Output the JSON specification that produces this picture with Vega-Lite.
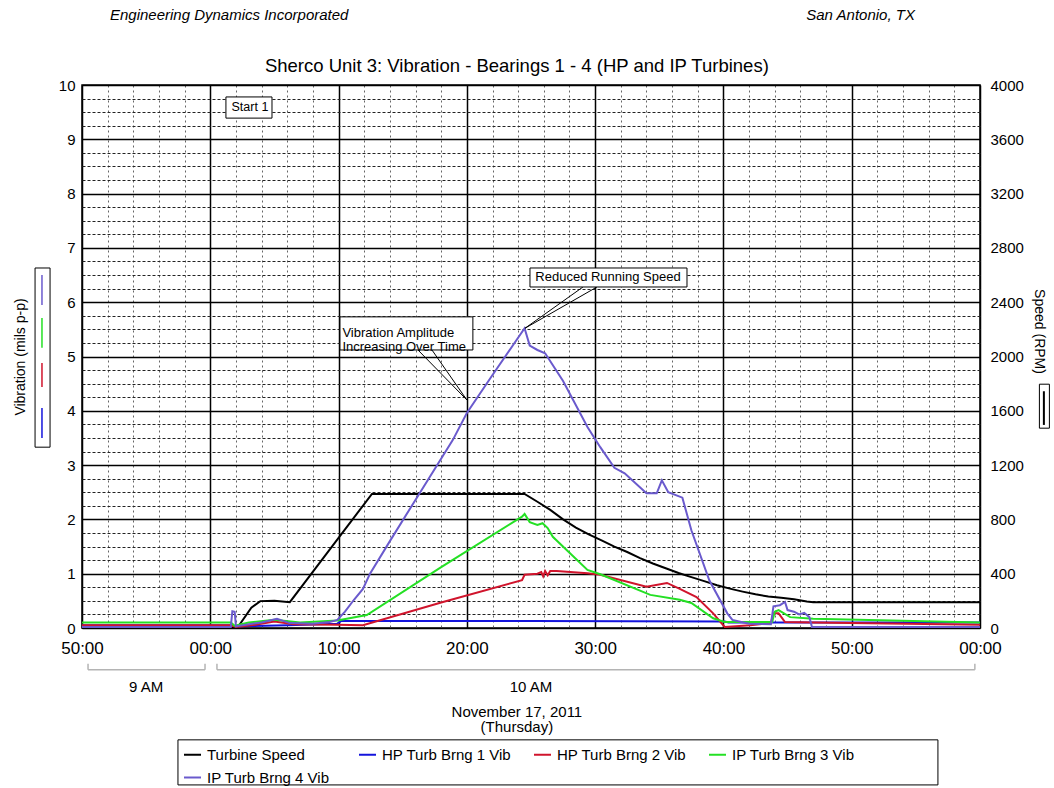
{
  "$schema": "https://vega.github.io/schema/vega-lite/v6.json",
  "width": 898,
  "height": 543,
  "autosize": "none",
  "padding": {"left": 82, "top": 85, "right": 74, "bottom": 160},
  "background": "white",
  "config": {
    "font": "Liberation Sans",
    "view": {"stroke": "black", "strokeWidth": 1.5},
    "axis": {
      "labelFont": "Liberation Sans",
      "labelColor": "black",
      "titleFont": "Liberation Sans",
      "titleColor": "black",
      "titleFontWeight": "normal",
      "ticks": false,
      "domain": false,
      "labelFontSize": 15,
      "titleFontSize": 14
    },
    "text": {"font": "Liberation Sans", "fontSize": 13, "color": "black"}
  },
  "datasets": {
    "speed": [
      {"minute": -10, "series": "Turbine Speed", "rpm": 0},
      {"minute": 2.1, "series": "Turbine Speed", "rpm": 0},
      {"minute": 3.2, "series": "Turbine Speed", "rpm": 150},
      {"minute": 3.9, "series": "Turbine Speed", "rpm": 198},
      {"minute": 5.0, "series": "Turbine Speed", "rpm": 200},
      {"minute": 6.2, "series": "Turbine Speed", "rpm": 190},
      {"minute": 12.6, "series": "Turbine Speed", "rpm": 988},
      {"minute": 24.5, "series": "Turbine Speed", "rpm": 988},
      {"minute": 25.5, "series": "Turbine Speed", "rpm": 930},
      {"minute": 26.5, "series": "Turbine Speed", "rpm": 870},
      {"minute": 27.5, "series": "Turbine Speed", "rpm": 800},
      {"minute": 28.5, "series": "Turbine Speed", "rpm": 740},
      {"minute": 29.5, "series": "Turbine Speed", "rpm": 690},
      {"minute": 30.5, "series": "Turbine Speed", "rpm": 645},
      {"minute": 31.5, "series": "Turbine Speed", "rpm": 600},
      {"minute": 32.5, "series": "Turbine Speed", "rpm": 560},
      {"minute": 33.5, "series": "Turbine Speed", "rpm": 515},
      {"minute": 34.5, "series": "Turbine Speed", "rpm": 475},
      {"minute": 35.5, "series": "Turbine Speed", "rpm": 440},
      {"minute": 36.5, "series": "Turbine Speed", "rpm": 405},
      {"minute": 37.5, "series": "Turbine Speed", "rpm": 375},
      {"minute": 38.5, "series": "Turbine Speed", "rpm": 345},
      {"minute": 39.5, "series": "Turbine Speed", "rpm": 315},
      {"minute": 40.5, "series": "Turbine Speed", "rpm": 290},
      {"minute": 41.5, "series": "Turbine Speed", "rpm": 268},
      {"minute": 42.5, "series": "Turbine Speed", "rpm": 248},
      {"minute": 43.5, "series": "Turbine Speed", "rpm": 232},
      {"minute": 44.5, "series": "Turbine Speed", "rpm": 222},
      {"minute": 45.5, "series": "Turbine Speed", "rpm": 212},
      {"minute": 46.5, "series": "Turbine Speed", "rpm": 195},
      {"minute": 47, "series": "Turbine Speed", "rpm": 190},
      {"minute": 60, "series": "Turbine Speed", "rpm": 190}
    ],
    "vibration": [
      {"minute": -10, "series": "HP Turb Brng 1 Vib", "mils": 0.05},
      {"minute": 1.6, "series": "HP Turb Brng 1 Vib", "mils": 0.05},
      {"minute": 2.0, "series": "HP Turb Brng 1 Vib", "mils": 0.03},
      {"minute": 6, "series": "HP Turb Brng 1 Vib", "mils": 0.05},
      {"minute": 9.9, "series": "HP Turb Brng 1 Vib", "mils": 0.08},
      {"minute": 10.2, "series": "HP Turb Brng 1 Vib", "mils": 0.13},
      {"minute": 25, "series": "HP Turb Brng 1 Vib", "mils": 0.13},
      {"minute": 40.1, "series": "HP Turb Brng 1 Vib", "mils": 0.12},
      {"minute": 40.4, "series": "HP Turb Brng 1 Vib", "mils": 0.1},
      {"minute": 60, "series": "HP Turb Brng 1 Vib", "mils": 0.1},

      {"minute": -10, "series": "HP Turb Brng 2 Vib", "mils": 0.05},
      {"minute": 1.6, "series": "HP Turb Brng 2 Vib", "mils": 0.05},
      {"minute": 2.0, "series": "HP Turb Brng 2 Vib", "mils": 0.02},
      {"minute": 3.5, "series": "HP Turb Brng 2 Vib", "mils": 0.06},
      {"minute": 5.0, "series": "HP Turb Brng 2 Vib", "mils": 0.12},
      {"minute": 6.5, "series": "HP Turb Brng 2 Vib", "mils": 0.07},
      {"minute": 9.9, "series": "HP Turb Brng 2 Vib", "mils": 0.06},
      {"minute": 11.9, "series": "HP Turb Brng 2 Vib", "mils": 0.05},
      {"minute": 18, "series": "HP Turb Brng 2 Vib", "mils": 0.47},
      {"minute": 24.3, "series": "HP Turb Brng 2 Vib", "mils": 0.88},
      {"minute": 24.5, "series": "HP Turb Brng 2 Vib", "mils": 0.98},
      {"minute": 25.5, "series": "HP Turb Brng 2 Vib", "mils": 1.0},
      {"minute": 25.8, "series": "HP Turb Brng 2 Vib", "mils": 1.03},
      {"minute": 25.95, "series": "HP Turb Brng 2 Vib", "mils": 0.95},
      {"minute": 26.1, "series": "HP Turb Brng 2 Vib", "mils": 1.05},
      {"minute": 26.3, "series": "HP Turb Brng 2 Vib", "mils": 0.97},
      {"minute": 26.5, "series": "HP Turb Brng 2 Vib", "mils": 1.05},
      {"minute": 27.0, "series": "HP Turb Brng 2 Vib", "mils": 1.05},
      {"minute": 29.4, "series": "HP Turb Brng 2 Vib", "mils": 1.01},
      {"minute": 30.4, "series": "HP Turb Brng 2 Vib", "mils": 0.98},
      {"minute": 34.0, "series": "HP Turb Brng 2 Vib", "mils": 0.76},
      {"minute": 35.6, "series": "HP Turb Brng 2 Vib", "mils": 0.83},
      {"minute": 36.6, "series": "HP Turb Brng 2 Vib", "mils": 0.72},
      {"minute": 37.9, "series": "HP Turb Brng 2 Vib", "mils": 0.57},
      {"minute": 39.2, "series": "HP Turb Brng 2 Vib", "mils": 0.27},
      {"minute": 40.1, "series": "HP Turb Brng 2 Vib", "mils": 0.02},
      {"minute": 42.1, "series": "HP Turb Brng 2 Vib", "mils": 0.05},
      {"minute": 43.7, "series": "HP Turb Brng 2 Vib", "mils": 0.09},
      {"minute": 43.9, "series": "HP Turb Brng 2 Vib", "mils": 0.27},
      {"minute": 44.3, "series": "HP Turb Brng 2 Vib", "mils": 0.27},
      {"minute": 44.8, "series": "HP Turb Brng 2 Vib", "mils": 0.11},
      {"minute": 47, "series": "HP Turb Brng 2 Vib", "mils": 0.1},
      {"minute": 60, "series": "HP Turb Brng 2 Vib", "mils": 0.06},

      {"minute": -10, "series": "IP Turb Brng 3 Vib", "mils": 0.1},
      {"minute": 1.6, "series": "IP Turb Brng 3 Vib", "mils": 0.1},
      {"minute": 1.9, "series": "IP Turb Brng 3 Vib", "mils": 0.04},
      {"minute": 3.0, "series": "IP Turb Brng 3 Vib", "mils": 0.1},
      {"minute": 5.0, "series": "IP Turb Brng 3 Vib", "mils": 0.15},
      {"minute": 7.0, "series": "IP Turb Brng 3 Vib", "mils": 0.1},
      {"minute": 9.9, "series": "IP Turb Brng 3 Vib", "mils": 0.14},
      {"minute": 12.2, "series": "IP Turb Brng 3 Vib", "mils": 0.24},
      {"minute": 18, "series": "IP Turb Brng 3 Vib", "mils": 1.12},
      {"minute": 24.3, "series": "IP Turb Brng 3 Vib", "mils": 2.05},
      {"minute": 24.5, "series": "IP Turb Brng 3 Vib", "mils": 2.1},
      {"minute": 24.9, "series": "IP Turb Brng 3 Vib", "mils": 1.95},
      {"minute": 25.5, "series": "IP Turb Brng 3 Vib", "mils": 1.9},
      {"minute": 25.9, "series": "IP Turb Brng 3 Vib", "mils": 1.93},
      {"minute": 26.3, "series": "IP Turb Brng 3 Vib", "mils": 1.84},
      {"minute": 26.7, "series": "IP Turb Brng 3 Vib", "mils": 1.68},
      {"minute": 29.4, "series": "IP Turb Brng 3 Vib", "mils": 1.07},
      {"minute": 30.4, "series": "IP Turb Brng 3 Vib", "mils": 0.99},
      {"minute": 34.3, "series": "IP Turb Brng 3 Vib", "mils": 0.61},
      {"minute": 36.6, "series": "IP Turb Brng 3 Vib", "mils": 0.52},
      {"minute": 37.5, "series": "IP Turb Brng 3 Vib", "mils": 0.46},
      {"minute": 39.2, "series": "IP Turb Brng 3 Vib", "mils": 0.18},
      {"minute": 40.1, "series": "IP Turb Brng 3 Vib", "mils": 0.11},
      {"minute": 43.8, "series": "IP Turb Brng 3 Vib", "mils": 0.11},
      {"minute": 44.0, "series": "IP Turb Brng 3 Vib", "mils": 0.3},
      {"minute": 44.3, "series": "IP Turb Brng 3 Vib", "mils": 0.33},
      {"minute": 45.2, "series": "IP Turb Brng 3 Vib", "mils": 0.2},
      {"minute": 47, "series": "IP Turb Brng 3 Vib", "mils": 0.17},
      {"minute": 60, "series": "IP Turb Brng 3 Vib", "mils": 0.1},

      {"minute": -10, "series": "IP Turb Brng 4 Vib", "mils": 0.02},
      {"minute": 1.6, "series": "IP Turb Brng 4 Vib", "mils": 0.02},
      {"minute": 1.72, "series": "IP Turb Brng 4 Vib", "mils": 0.31},
      {"minute": 1.9, "series": "IP Turb Brng 4 Vib", "mils": 0.3},
      {"minute": 2.0, "series": "IP Turb Brng 4 Vib", "mils": 0.03},
      {"minute": 3.0, "series": "IP Turb Brng 4 Vib", "mils": 0.07},
      {"minute": 4.0, "series": "IP Turb Brng 4 Vib", "mils": 0.1},
      {"minute": 5.2, "series": "IP Turb Brng 4 Vib", "mils": 0.17},
      {"minute": 6.2, "series": "IP Turb Brng 4 Vib", "mils": 0.09},
      {"minute": 8, "series": "IP Turb Brng 4 Vib", "mils": 0.08},
      {"minute": 9.3, "series": "IP Turb Brng 4 Vib", "mils": 0.11},
      {"minute": 9.9, "series": "IP Turb Brng 4 Vib", "mils": 0.15},
      {"minute": 10.5, "series": "IP Turb Brng 4 Vib", "mils": 0.3},
      {"minute": 11.2, "series": "IP Turb Brng 4 Vib", "mils": 0.52},
      {"minute": 11.9, "series": "IP Turb Brng 4 Vib", "mils": 0.72},
      {"minute": 12.45, "series": "IP Turb Brng 4 Vib", "mils": 1.0},
      {"minute": 14, "series": "IP Turb Brng 4 Vib", "mils": 1.6},
      {"minute": 16.1, "series": "IP Turb Brng 4 Vib", "mils": 2.4},
      {"minute": 18.9, "series": "IP Turb Brng 4 Vib", "mils": 3.46},
      {"minute": 20, "series": "IP Turb Brng 4 Vib", "mils": 3.96},
      {"minute": 22, "series": "IP Turb Brng 4 Vib", "mils": 4.66},
      {"minute": 24.5, "series": "IP Turb Brng 4 Vib", "mils": 5.52},
      {"minute": 24.9, "series": "IP Turb Brng 4 Vib", "mils": 5.2},
      {"minute": 25.5, "series": "IP Turb Brng 4 Vib", "mils": 5.12},
      {"minute": 26.1, "series": "IP Turb Brng 4 Vib", "mils": 5.06},
      {"minute": 27.5, "series": "IP Turb Brng 4 Vib", "mils": 4.55},
      {"minute": 29.4, "series": "IP Turb Brng 4 Vib", "mils": 3.7},
      {"minute": 30.4, "series": "IP Turb Brng 4 Vib", "mils": 3.33},
      {"minute": 31.5, "series": "IP Turb Brng 4 Vib", "mils": 2.95},
      {"minute": 32.3, "series": "IP Turb Brng 4 Vib", "mils": 2.85},
      {"minute": 34.0, "series": "IP Turb Brng 4 Vib", "mils": 2.48},
      {"minute": 34.8, "series": "IP Turb Brng 4 Vib", "mils": 2.48},
      {"minute": 35.2, "series": "IP Turb Brng 4 Vib", "mils": 2.72},
      {"minute": 35.7, "series": "IP Turb Brng 4 Vib", "mils": 2.5},
      {"minute": 36.8, "series": "IP Turb Brng 4 Vib", "mils": 2.4},
      {"minute": 37.5, "series": "IP Turb Brng 4 Vib", "mils": 1.8},
      {"minute": 38.9, "series": "IP Turb Brng 4 Vib", "mils": 0.88},
      {"minute": 40.3, "series": "IP Turb Brng 4 Vib", "mils": 0.27},
      {"minute": 40.7, "series": "IP Turb Brng 4 Vib", "mils": 0.15},
      {"minute": 42, "series": "IP Turb Brng 4 Vib", "mils": 0.08},
      {"minute": 43.7, "series": "IP Turb Brng 4 Vib", "mils": 0.07},
      {"minute": 43.9, "series": "IP Turb Brng 4 Vib", "mils": 0.4},
      {"minute": 44.4, "series": "IP Turb Brng 4 Vib", "mils": 0.42},
      {"minute": 44.8, "series": "IP Turb Brng 4 Vib", "mils": 0.48},
      {"minute": 45.0, "series": "IP Turb Brng 4 Vib", "mils": 0.33},
      {"minute": 45.5, "series": "IP Turb Brng 4 Vib", "mils": 0.3},
      {"minute": 45.9, "series": "IP Turb Brng 4 Vib", "mils": 0.25},
      {"minute": 46.3, "series": "IP Turb Brng 4 Vib", "mils": 0.28},
      {"minute": 46.7, "series": "IP Turb Brng 4 Vib", "mils": 0.2},
      {"minute": 46.9, "series": "IP Turb Brng 4 Vib", "mils": 0.02},
      {"minute": 60, "series": "IP Turb Brng 4 Vib", "mils": 0.02}
    ]
  },
  "layer": [
    {
      "data": {"name": "speed"},
      "mark": {"type": "line", "strokeWidth": 2},
      "encoding": {
        "x": {"field": "minute", "type": "quantitative", "scale": {"domain": [-10, 60]}, "axis": null},
        "y": {
          "field": "rpm", "type": "quantitative", "scale": {"domain": [0, 4000]},
          "axis": {
            "orient": "right",
            "values": [0, 400, 800, 1200, 1600, 2000, 2400, 2800, 3200, 3600, 4000],
            "format": "d",
            "labelPadding": 10,
            "grid": false,
            "title": "Speed (RPM)",
            "titleAngle": 90,
            "titleY": 246,
            "titlePadding": 8
          }
        },
        "color": {
          "field": "series", "type": "nominal",
          "scale": {
            "domain": ["Turbine Speed", "HP Turb Brng 1 Vib", "HP Turb Brng 2 Vib", "IP Turb Brng 3 Vib", "IP Turb Brng 4 Vib"],
            "range": ["#000000", "#1414dc", "#d0142c", "#24e024", "#6a5acd"]
          }
        }
      }
    },
    {
      "layer": [
        {
          "data": {"name": "vibration"},
          "mark": {"type": "line", "opacity": 0},
          "encoding": {
            "x": {
              "field": "minute", "type": "quantitative", "scale": {"domain": [-10, 60]},
              "axis": {
                "orient": "bottom",
                "values": [-8, -6, -4, -2, 2, 4, 6, 8, 12, 14, 16, 18, 22, 24, 26, 28, 32, 34, 36, 38, 42, 44, 46, 48, 52, 54, 56, 58],
                "labels": false, "grid": true, "gridColor": "#666666", "gridDash": [2, 3], "gridWidth": 1, "title": null
              }
            },
            "y": {
              "field": "mils", "type": "quantitative", "scale": {"domain": [0, 10]},
              "axis": {
                "orient": "left",
                "values": [0.25, 0.5, 0.75, 1.25, 1.5, 1.75, 2.25, 2.5, 2.75, 3.25, 3.5, 3.75, 4.25, 4.5, 4.75, 5.25, 5.5, 5.75, 6.25, 6.5, 6.75, 7.25, 7.5, 7.75, 8.25, 8.5, 8.75, 9.25, 9.5, 9.75],
                "labels": false, "grid": true, "gridColor": "#222222", "gridDash": [3, 2], "gridWidth": 1, "title": null
              }
            },
            "detail": {"field": "series"}
          }
        },
        {
          "data": {"name": "vibration"},
          "mark": {"type": "line", "strokeWidth": 2},
          "encoding": {
            "x": {
              "field": "minute", "type": "quantitative", "scale": {"domain": [-10, 60]},
              "axis": {
                "orient": "bottom",
                "values": [-10, 0, 10, 20, 30, 40, 50, 60],
                "labelExpr": "((((datum.value % 60) + 60) % 60) < 10 ? '0' : '') + (((datum.value % 60) + 60) % 60) + ':00'",
                "labelFontSize": 17,
                "labelPadding": 12,
                "labelFlush": false,
                "labelOverlap": false,
                "grid": true, "gridColor": "black", "gridWidth": 1.5,
                "title": null
              }
            },
            "y": {
              "field": "mils", "type": "quantitative", "scale": {"domain": [0, 10]},
              "axis": {
                "orient": "left",
                "values": [0, 1, 2, 3, 4, 5, 6, 7, 8, 9, 10],
                "labelPadding": 7,
                "grid": true, "gridColor": "black", "gridWidth": 1.5,
                "title": "Vibration (mils p-p)",
                "titlePadding": 31
              }
            },
            "color": {
              "field": "series", "type": "nominal",
              "scale": {
                "domain": ["Turbine Speed", "HP Turb Brng 1 Vib", "HP Turb Brng 2 Vib", "IP Turb Brng 3 Vib", "IP Turb Brng 4 Vib"],
                "range": ["#000000", "#1414dc", "#d0142c", "#24e024", "#6a5acd"]
              },
              "legend": {
                "orient": "none",
                "legendX": 101,
                "legendY": 660,
                "direction": "horizontal",
                "columns": 4,
                "gridAlign": "all",
                "title": null,
                "symbolType": "stroke",
                "symbolStrokeWidth": 2,
                "symbolSize": 289,
                "labelFont": "Liberation Sans",
                "labelFontSize": 15,
                "labelColor": "black",
                "labelOffset": 5,
                "labelLimit": 300,
                "columnPadding": 18,
                "rowPadding": 5,
                "padding": 0
              }
            }
          }
        },
        {
          "data": {"values": [{}]},
          "layer": [
            {
              "mark": {"type": "text", "align": "left", "fontStyle": "italic", "fontSize": 15},
              "encoding": {
                "x": {"datum": -7.82, "type": "quantitative", "axis": null},
                "y": {"datum": 11.29, "type": "quantitative", "axis": null},
                "text": {"value": "Engineering Dynamics Incorporated"}
              }
            },
            {
              "mark": {"type": "text", "align": "right", "fontStyle": "italic", "fontSize": 15},
              "encoding": {
                "x": {"datum": 54.93, "type": "quantitative", "axis": null},
                "y": {"datum": 11.29, "type": "quantitative", "axis": null},
                "text": {"value": "San Antonio, TX"}
              }
            },
            {
              "mark": {"type": "text", "fontSize": 18.5},
              "encoding": {
                "x": {"datum": 23.9, "type": "quantitative", "axis": null},
                "y": {"datum": 10.35, "type": "quantitative", "axis": null},
                "text": {"value": "Sherco Unit 3: Vibration - Bearings 1 - 4 (HP and IP Turbines)"}
              }
            },
            {
              "mark": {"type": "rect", "fill": "white", "stroke": "black", "strokeWidth": 1},
              "encoding": {
                "x": {"datum": 1.22, "type": "quantitative", "axis": null},
                "x2": {"datum": 4.81},
                "y": {"datum": 9.78, "type": "quantitative", "axis": null},
                "y2": {"datum": 9.39}
              }
            },
            {
              "mark": {"type": "text", "fontSize": 12.5},
              "encoding": {
                "x": {"datum": 3.09, "type": "quantitative", "axis": null},
                "y": {"datum": 9.59, "type": "quantitative", "axis": null},
                "text": {"value": "Start 1"}
              }
            },
            {
              "mark": {"type": "rule", "color": "black", "strokeWidth": 1},
              "encoding": {
                "x": {"datum": 16.19, "type": "quantitative", "axis": null},
                "x2": {"datum": 20.0},
                "y": {"datum": 5.12, "type": "quantitative", "axis": null},
                "y2": {"datum": 4.2}
              }
            },
            {
              "mark": {"type": "rule", "color": "black", "strokeWidth": 1},
              "encoding": {
                "x": {"datum": 17.28, "type": "quantitative", "axis": null},
                "x2": {"datum": 20.0},
                "y": {"datum": 5.12, "type": "quantitative", "axis": null},
                "y2": {"datum": 4.2}
              }
            },
            {
              "mark": {"type": "rect", "fill": "white", "stroke": "black", "strokeWidth": 1},
              "encoding": {
                "x": {"datum": 10.11, "type": "quantitative", "axis": null},
                "x2": {"datum": 20.47},
                "y": {"datum": 5.73, "type": "quantitative", "axis": null},
                "y2": {"datum": 5.12}
              }
            },
            {
              "mark": {"type": "text", "align": "left", "fontSize": 13, "lineBreak": "\n", "lineHeight": 14},
              "encoding": {
                "x": {"datum": 10.3, "type": "quantitative", "axis": null},
                "y": {"datum": 5.43, "type": "quantitative", "axis": null},
                "text": {"value": "Vibration Amplitude\nIncreasing Over Time"}
              }
            },
            {
              "mark": {"type": "rule", "color": "black", "strokeWidth": 1},
              "encoding": {
                "x": {"datum": 29.05, "type": "quantitative", "axis": null},
                "x2": {"datum": 24.53},
                "y": {"datum": 6.28, "type": "quantitative", "axis": null},
                "y2": {"datum": 5.52}
              }
            },
            {
              "mark": {"type": "rule", "color": "black", "strokeWidth": 1},
              "encoding": {
                "x": {"datum": 30.14, "type": "quantitative", "axis": null},
                "x2": {"datum": 24.53},
                "y": {"datum": 6.28, "type": "quantitative", "axis": null},
                "y2": {"datum": 5.52}
              }
            },
            {
              "mark": {"type": "rect", "fill": "white", "stroke": "black", "strokeWidth": 1},
              "encoding": {
                "x": {"datum": 24.92, "type": "quantitative", "axis": null},
                "x2": {"datum": 37.16},
                "y": {"datum": 6.63, "type": "quantitative", "axis": null},
                "y2": {"datum": 6.28}
              }
            },
            {
              "mark": {"type": "text", "fontSize": 13},
              "encoding": {
                "x": {"datum": 31.0, "type": "quantitative", "axis": null},
                "y": {"datum": 6.455, "type": "quantitative", "axis": null},
                "text": {"value": "Reduced Running Speed"}
              }
            },
            {
              "mark": {"type": "rect", "fill": "white", "stroke": "black", "strokeWidth": 1},
              "encoding": {
                "x": {"datum": -13.66, "type": "quantitative", "axis": null},
                "x2": {"datum": -12.49},
                "y": {"datum": 6.63, "type": "quantitative", "axis": null},
                "y2": {"datum": 3.33}
              }
            },
            {
              "mark": {"type": "rule", "color": "#6a5acd", "strokeWidth": 1.5},
              "encoding": {
                "x": {"datum": -13.12, "type": "quantitative", "axis": null},
                "y": {"datum": 6.5, "type": "quantitative", "axis": null},
                "y2": {"datum": 5.95}
              }
            },
            {
              "mark": {"type": "rule", "color": "#24e024", "strokeWidth": 1.5},
              "encoding": {
                "x": {"datum": -13.12, "type": "quantitative", "axis": null},
                "y": {"datum": 5.71, "type": "quantitative", "axis": null},
                "y2": {"datum": 5.16}
              }
            },
            {
              "mark": {"type": "rule", "color": "#d0142c", "strokeWidth": 1.5},
              "encoding": {
                "x": {"datum": -13.12, "type": "quantitative", "axis": null},
                "y": {"datum": 4.88, "type": "quantitative", "axis": null},
                "y2": {"datum": 4.44}
              }
            },
            {
              "mark": {"type": "rule", "color": "#1414dc", "strokeWidth": 1.5},
              "encoding": {
                "x": {"datum": -13.12, "type": "quantitative", "axis": null},
                "y": {"datum": 4.05, "type": "quantitative", "axis": null},
                "y2": {"datum": 3.5}
              }
            },
            {
              "mark": {"type": "rect", "fill": "white", "stroke": "black", "strokeWidth": 1},
              "encoding": {
                "x": {"datum": 64.63, "type": "quantitative", "axis": null},
                "x2": {"datum": 65.41},
                "y": {"datum": 4.49, "type": "quantitative", "axis": null},
                "y2": {"datum": 3.68}
              }
            },
            {
              "mark": {"type": "rule", "color": "black", "strokeWidth": 2},
              "encoding": {
                "x": {"datum": 64.98, "type": "quantitative", "axis": null},
                "y": {"datum": 4.36, "type": "quantitative", "axis": null},
                "y2": {"datum": 3.74}
              }
            },
            {
              "mark": {"type": "rule", "color": "#b4b4b4", "strokeWidth": 1.5},
              "encoding": {
                "x": {"datum": -9.53, "type": "quantitative", "axis": null},
                "x2": {"datum": -0.41},
                "y": {"datum": -0.77, "type": "quantitative", "axis": null}
              }
            },
            {
              "mark": {"type": "rule", "color": "#b4b4b4", "strokeWidth": 1.5},
              "encoding": {
                "x": {"datum": -9.53, "type": "quantitative", "axis": null},
                "y": {"datum": -0.77, "type": "quantitative", "axis": null},
                "y2": {"datum": -0.66}
              }
            },
            {
              "mark": {"type": "rule", "color": "#b4b4b4", "strokeWidth": 1.5},
              "encoding": {
                "x": {"datum": -0.41, "type": "quantitative", "axis": null},
                "y": {"datum": -0.77, "type": "quantitative", "axis": null},
                "y2": {"datum": -0.66}
              }
            },
            {
              "mark": {"type": "rule", "color": "#b4b4b4", "strokeWidth": 1.5},
              "encoding": {
                "x": {"datum": 0.52, "type": "quantitative", "axis": null},
                "x2": {"datum": 59.6},
                "y": {"datum": -0.77, "type": "quantitative", "axis": null}
              }
            },
            {
              "mark": {"type": "rule", "color": "#b4b4b4", "strokeWidth": 1.5},
              "encoding": {
                "x": {"datum": 0.52, "type": "quantitative", "axis": null},
                "y": {"datum": -0.77, "type": "quantitative", "axis": null},
                "y2": {"datum": -0.66}
              }
            },
            {
              "mark": {"type": "rule", "color": "#b4b4b4", "strokeWidth": 1.5},
              "encoding": {
                "x": {"datum": 59.6, "type": "quantitative", "axis": null},
                "y": {"datum": -0.77, "type": "quantitative", "axis": null},
                "y2": {"datum": -0.66}
              }
            },
            {
              "mark": {"type": "text", "fontSize": 15},
              "encoding": {
                "x": {"datum": -5, "type": "quantitative", "axis": null},
                "y": {"datum": -1.09, "type": "quantitative", "axis": null},
                "text": {"value": "9 AM"}
              }
            },
            {
              "mark": {"type": "text", "fontSize": 15},
              "encoding": {
                "x": {"datum": 25, "type": "quantitative", "axis": null},
                "y": {"datum": -1.09, "type": "quantitative", "axis": null},
                "text": {"value": "10 AM"}
              }
            },
            {
              "mark": {"type": "text", "fontSize": 15, "lineBreak": "\n", "lineHeight": 15},
              "encoding": {
                "x": {"datum": 23.9, "type": "quantitative", "axis": null},
                "y": {"datum": -1.555, "type": "quantitative", "axis": null},
                "text": {"value": "November 17, 2011\n(Thursday)"}
              }
            },
            {
              "mark": {"type": "rect", "fill": "white", "stroke": "black", "strokeWidth": 1},
              "encoding": {
                "x": {"datum": -2.52, "type": "quantitative", "axis": null},
                "x2": {"datum": 56.72},
                "y": {"datum": -2.06, "type": "quantitative", "axis": null},
                "y2": {"datum": -2.89}
              }
            }
          ]
        }
      ],
      "resolve": {"axis": {"x": "independent", "y": "independent"}}
    }
  ],
  "resolve": {"scale": {"y": "independent"}, "axis": {"x": "independent"}}
}
